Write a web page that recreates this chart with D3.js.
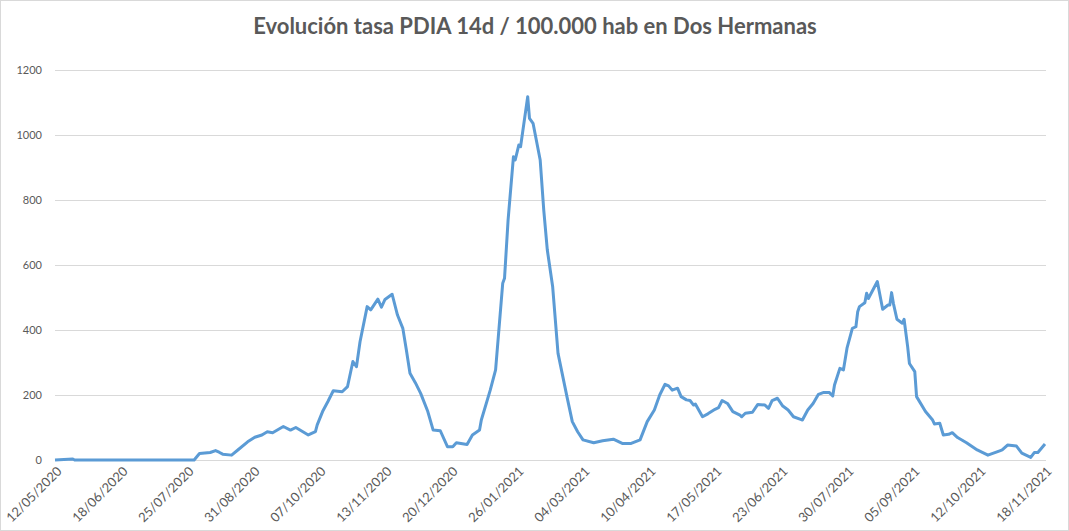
<!DOCTYPE html>
<html><head><meta charset="utf-8">
<script src="https://cdn.jsdelivr.net/npm/d3@7"></script>
<style>body{margin:0;background:#fff}</style></head>
<body><svg id="c" width="1069" height="531"></svg>
<script>
const title = "Evolución tasa PDIA 14d / 100.000 hab en Dos Hermanas";
const startDate = "2020-05-12";
const days = [0,10,11,78,81,87,90,92,94,99,103,108,112,116,119,122,128,132,135,142,146,147,150,153,156,161,164,167,169,171,175,177,181,183,185,189,192,195,197,199,202,205,209,212,216,220,223,225,231,234,238,239,244,247,251,252,254,257,258,260,261,265,266,268,272,274,276,279,282,287,290,293,296,302,307,313,318,323,328,332,336,339,342,344,346,349,351,354,356,358,359,363,366,370,372,374,377,380,384,385,387,391,394,398,400,402,405,408,411,414,418,419,422,425,428,431,434,436,437,440,442,444,447,449,450,451,454,455,456,461,464,467,468,469,470,472,475,476,478,479,482,483,488,492,493,496,498,501,503,506,511,517,523,530,531,534,539,542,547,549,551,555];
const values = [0,3,0,0,20,23,29,24,18,15,33,56,70,77,87,84,103,92,100,77,87,108,149,180,213,210,226,303,287,364,472,462,495,470,494,510,446,405,338,267,238,205,149,92,90,41,41,53,48,77,92,123,215,277,544,559,738,933,923,969,964,1118,1051,1036,923,769,646,533,328,195,118,87,62,53,59,64,51,51,62,118,154,200,233,228,215,221,195,185,183,169,172,133,142,156,161,183,174,149,138,133,144,147,171,169,159,183,190,166,154,133,125,123,154,174,202,208,208,197,231,282,277,344,405,410,456,472,484,513,497,549,464,477,477,515,482,433,421,433,349,297,272,195,149,123,111,113,77,79,84,69,53,31,15,29,31,46,43,21,8,23,23,49];
const tickLabels = ["12/05/2020","18/06/2020","25/07/2020","31/08/2020","07/10/2020","13/11/2020","20/12/2020","26/01/2021","04/03/2021","10/04/2021","17/05/2021","23/06/2021","30/07/2021","05/09/2021","12/10/2021","18/11/2021"];
const yTicks = [0,200,400,600,800,1000,1200];

const svg = d3.select("#c");
const t0 = d3.timeParse("%Y-%m-%d")(startDate);
const data = days.map((d,i)=>({date:d3.timeDay.offset(t0,d), v:values[i]}));
const parseTick = d3.timeParse("%d/%m/%Y");
const tickDates = tickLabels.map(parseTick);
const x = d3.scaleTime().domain([tickDates[0], tickDates[tickDates.length-1]]).range([55,1045]);
const y = d3.scaleLinear().domain([0,1200]).range([460,70]);

svg.append("rect").attr("x",0.5).attr("y",0.5).attr("width",1068).attr("height",530).attr("fill","#fff").attr("stroke","#d9d9d9");
svg.append("text").attr("x",535).attr("y",34).attr("text-anchor","middle")
  .attr("font-family","Lato, 'Open Sans', sans-serif").attr("font-weight","bold").attr("font-size",22).attr("fill","#595959").text(title);

const ya = svg.append("g").attr("transform","translate(55,0)")
  .call(d3.axisLeft(y).tickValues(yTicks).tickSize(-991).tickPadding(13).tickFormat(d3.format("d")));
ya.select(".domain").remove();
ya.selectAll("line").attr("stroke","#d9d9d9");
ya.selectAll("text").attr("font-family","Lato, sans-serif").attr("font-size",11).attr("fill","#595959");

const xa = svg.append("g").attr("transform","translate(0,460)")
  .call(d3.axisBottom(x).tickValues(tickDates).tickSize(0).tickFormat((d,i)=>tickLabels[i]));
xa.select(".domain").attr("stroke","#d9d9d9");
xa.selectAll("text").attr("font-family","Lato, sans-serif").attr("font-size",13).attr("fill","#595959")
  .attr("text-anchor","end").attr("dy",0).attr("transform","translate(5,10) rotate(-45)");

svg.append("path").datum(data).attr("fill","none").attr("stroke","#5b9bd5").attr("stroke-width",3)
  .attr("stroke-linejoin","round")
  .attr("d",d3.line().x(d=>x(d.date)).y(d=>y(d.v)));
</script></body></html>
